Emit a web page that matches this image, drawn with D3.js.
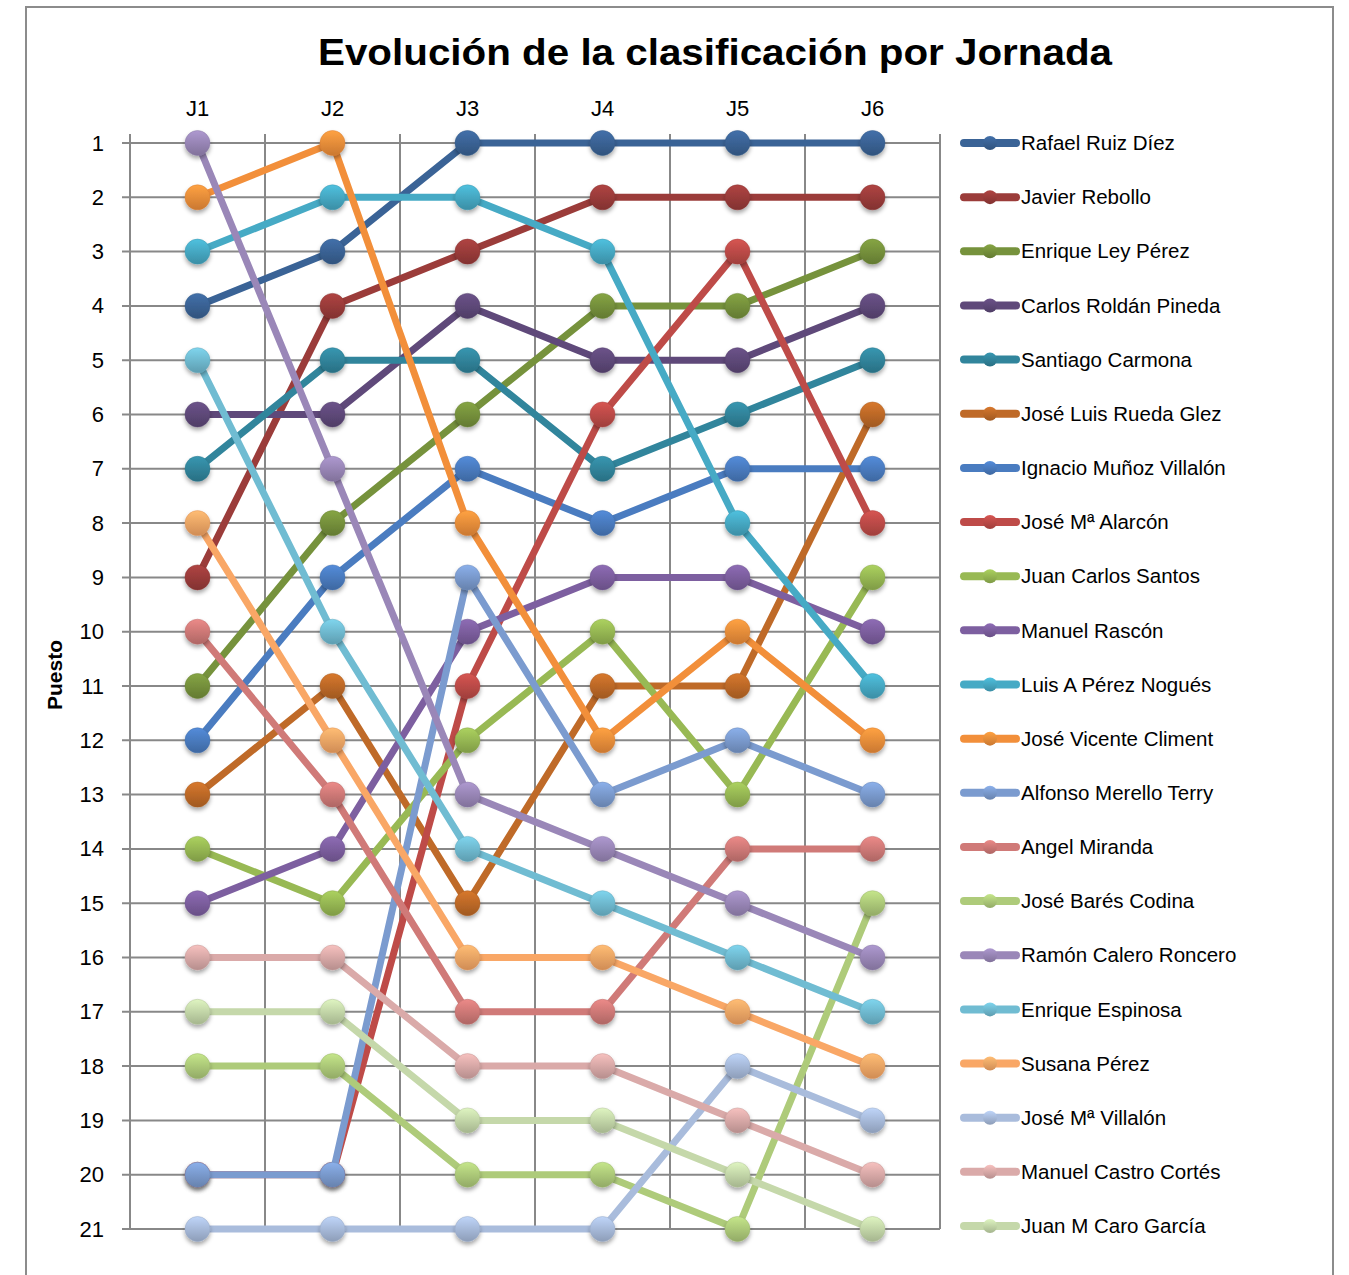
<!DOCTYPE html>
<html>
<head>
<meta charset="utf-8">
<script src="https://cdn.jsdelivr.net/npm/d3@7/dist/d3.min.js"></script>
<style>
  body { margin: 0; background: #fff; }
  svg { display: block; }
</style>
</head>
<body>
<svg id="chart" width="1349" height="1275"></svg>
<script>
  // ── Data ────────────────────────────────────────────────────────────────
  const JORNADAS = ['J1', 'J2', 'J3', 'J4', 'J5', 'J6'];
  const PUESTOS = d3.range(1, 22);
  const PLAYERS = [
    'Rafael Ruiz Díez', 'Javier Rebollo', 'Enrique Ley Pérez', 'Carlos Roldán Pineda',
    'Santiago Carmona', 'José Luis Rueda Glez', 'Ignacio Muñoz Villalón', 'José Mª Alarcón',
    'Juan Carlos Santos', 'Manuel Rascón', 'Luis A Pérez Nogués', 'José Vicente Climent',
    'Alfonso Merello Terry', 'Angel Miranda', 'José Barés Codina', 'Ramón Calero Roncero',
    'Enrique Espinosa', 'Susana Pérez', 'José Mª Villalón', 'Manuel Castro Cortés',
    'Juan M Caro García'
  ];
  const RANKS = [
    [4, 3, 1, 1, 1, 1],
    [9, 4, 3, 2, 2, 2],
    [11, 8, 6, 4, 4, 3],
    [6, 6, 4, 5, 5, 4],
    [7, 5, 5, 7, 6, 5],
    [13, 11, 15, 11, 11, 6],
    [12, 9, 7, 8, 7, 7],
    [20, 20, 11, 6, 3, 8],
    [14, 15, 12, 10, 13, 9],
    [15, 14, 10, 9, 9, 10],
    [3, 2, 2, 3, 8, 11],
    [2, 1, 8, 12, 10, 12],
    [20, 20, 9, 13, 12, 13],
    [10, 13, 17, 17, 14, 14],
    [18, 18, 20, 20, 21, 15],
    [1, 7, 13, 14, 15, 16],
    [5, 10, 14, 15, 16, 17],
    [8, 12, 16, 16, 17, 18],
    [21, 21, 21, 21, 18, 19],
    [16, 16, 18, 18, 19, 20],
    [17, 17, 19, 19, 20, 21]
  ];
  const COLORS = [
    '#3A6396', '#9B3C3A', '#76923C', '#5F497A', '#31859C', '#BF6A28',
    '#4A7CC0', '#BE4B48', '#98B954', '#7D5FA0', '#46AAC5', '#F28F3A',
    '#7B9BCF', '#D07A78', '#AECB7A', '#9A87B8', '#70BCD2', '#F9A766',
    '#A9BCDC', '#DAAAA9', '#C5D8AA'
  ];

  const FONT = '"Liberation Sans", Arial, sans-serif';
  const GRID = '#888888';

  const svg = d3.select('#chart');
  const defs = svg.append('defs');

  // frame
  svg.append('rect')
    .attr('x', 26).attr('y', 7).attr('width', 1307).attr('height', 1300)
    .attr('fill', '#fff').attr('stroke', '#8c8c8c').attr('stroke-width', 2);

  // shadow filter for markers
  const f = defs.append('filter').attr('id', 'shadow')
    .attr('x', '-50%').attr('y', '-50%').attr('width', '200%').attr('height', '220%');
  f.append('feDropShadow').attr('dx', 0).attr('dy', 3).attr('stdDeviation', 2)
    .attr('flood-color', '#000').attr('flood-opacity', 0.35);

  // gradient per series
  COLORS.forEach((c, i) => {
    const g = defs.append('linearGradient').attr('id', 'grad' + i)
      .attr('x1', 0).attr('y1', 0).attr('x2', 0).attr('y2', 1);
    g.append('stop').attr('offset', '0%').attr('stop-color', d3.color(c).brighter(0.35));
    g.append('stop').attr('offset', '100%').attr('stop-color', d3.color(c).darker(0.5));
  });

  // ── Scales ──────────────────────────────────────────────────────────────
  const x = d3.scaleBand().domain(JORNADAS).range([130, 940]);
  const cx = j => x(j) + x.bandwidth() / 2;
  const y = d3.scaleLinear().domain([1, 21]).range([143, 1229]);

  // ── Title ───────────────────────────────────────────────────────────────
  svg.append('text')
    .attr('x', 715).attr('y', 65)
    .attr('text-anchor', 'middle')
    .attr('font-family', FONT).attr('font-weight', 'bold').attr('font-size', 37)
    .attr('textLength', 794).attr('lengthAdjust', 'spacingAndGlyphs')
    .text('Evolución de la clasificación por Jornada');

  // ── Grid ────────────────────────────────────────────────────────────────
  const gridG = svg.append('g');
  gridG.selectAll('line.h').data(PUESTOS).join('line')
    .attr('class', 'h')
    .attr('x1', 122).attr('x2', 940)
    .attr('y1', d => y(d)).attr('y2', d => y(d))
    .attr('stroke', GRID).attr('stroke-width', 2);
  const vx = JORNADAS.map(j => x(j)).concat([x('J6') + x.bandwidth()]);
  gridG.selectAll('line.v').data(vx).join('line')
    .attr('class', 'v')
    .attr('x1', d => d).attr('x2', d => d)
    .attr('y1', 134).attr('y2', 1229)
    .attr('stroke', GRID).attr('stroke-width', 2);

  // ── Axes ────────────────────────────────────────────────────────────────
  const yAxis = svg.append('g')
    .attr('transform', 'translate(130,0)')
    .call(d3.axisLeft(y).tickValues(PUESTOS).tickSize(0).tickPadding(26));
  yAxis.select('.domain').remove();
  yAxis.selectAll('text')
    .attr('font-family', FONT).attr('font-size', 22).attr('fill', '#000');

  const xAxis = svg.append('g')
    .attr('transform', 'translate(0,143)')
    .call(d3.axisTop(x).tickSize(0).tickPadding(27));
  xAxis.select('.domain').remove();
  xAxis.selectAll('text')
    .attr('font-family', FONT).attr('font-size', 22).attr('fill', '#000');

  svg.append('text')
    .attr('transform', 'translate(62,675) rotate(-90)')
    .attr('text-anchor', 'middle')
    .attr('font-family', FONT).attr('font-weight', 'bold').attr('font-size', 21)
    .text('Puesto');

  // ── Series ──────────────────────────────────────────────────────────────
  const line = d3.line().x((d, i) => cx(JORNADAS[i])).y(d => y(d));
  const series = PLAYERS.map((name, i) => ({ name, ranks: RANKS[i], color: COLORS[i], i }));

  const serG = svg.append('g').selectAll('g').data(series).join('g');
  serG.append('path')
    .attr('d', d => line(d.ranks))
    .attr('fill', 'none')
    .attr('stroke', d => d.color)
    .attr('stroke-width', 7)
    .attr('stroke-linejoin', 'round');
  serG.selectAll('circle')
    .data(d => d.ranks.map((r, k) => ({ r, k, s: d })))
    .join('circle')
    .attr('cx', d => cx(JORNADAS[d.k]))
    .attr('cy', d => y(d.r))
    .attr('r', 12.5)
    .attr('fill', d => `url(#grad${d.s.i})`)
    .attr('stroke', d => d3.color(d.s.color).darker(0.3))
    .attr('stroke-opacity', 0.5)
    .attr('stroke-width', 1)
    .attr('filter', 'url(#shadow)');

  // ── Legend ──────────────────────────────────────────────────────────────
  const ly = d3.scalePoint().domain(PLAYERS).range([143, 1226]);
  const leg = svg.append('g').selectAll('g').data(series).join('g')
    .attr('transform', d => `translate(0,${ly(d.name)})`);
  leg.append('line')
    .attr('x1', 964).attr('x2', 1016)
    .attr('stroke', d => d.color).attr('stroke-width', 8)
    .attr('stroke-linecap', 'round');
  leg.append('circle')
    .attr('cx', 990).attr('r', 7)
    .attr('fill', d => `url(#grad${d.i})`);
  leg.append('text')
    .attr('x', 1021).attr('dy', '0.35em')
    .attr('font-family', FONT).attr('font-size', 20.5).attr('fill', '#000')
    .text(d => d.name);
</script>
</body>
</html>
